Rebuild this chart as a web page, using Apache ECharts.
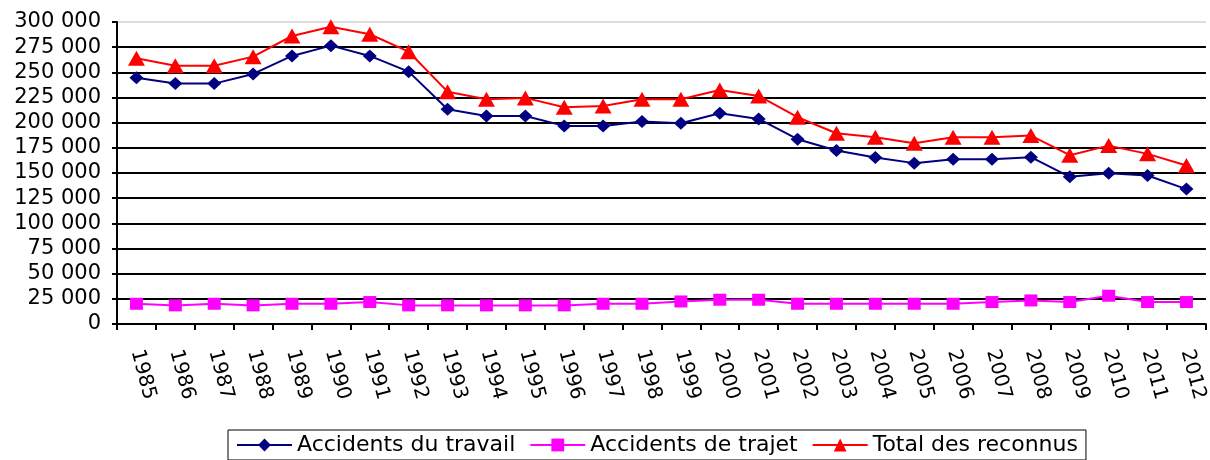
<!DOCTYPE html>
<html>
<head>
<meta charset="utf-8">
<script src="https://cdn.jsdelivr.net/npm/echarts@6/dist/echarts.min.js"></script>
<style>
html,body{margin:0;padding:0;background:#fff;}
#c{width:1210px;height:460px;}
</style>
</head>
<body>
<div id="c"></div>
<script>
const years = ['1985','1986','1987','1988','1989','1990','1991','1992','1993','1994','1995','1996','1997','1998','1999','2000','2001','2002','2003','2004','2005','2006','2007','2008','2009','2010','2011','2012'];
const accidentsTravail = [244700, 238800, 238800, 248400, 266300, 276500, 266300, 250700, 213400, 206700, 206700, 196800, 196800, 201100, 199500, 209400, 203700, 183600, 172300, 165300, 159800, 163700, 163700, 165700, 146200, 149800, 147500, 134000];
const accidentsTrajet = [20100, 18500, 20100, 18500, 20100, 20100, 21800, 18500, 18500, 18500, 18500, 18500, 20100, 20100, 22400, 24100, 24100, 20100, 20100, 20100, 20100, 20100, 21800, 23400, 21800, 28100, 21800, 21800];
const totalReconnus = [264000, 256600, 256600, 265600, 286100, 295300, 287800, 270500, 230800, 223300, 224600, 215300, 216600, 223300, 223300, 232500, 226600, 205400, 189500, 185600, 179600, 185600, 185600, 187200, 167700, 177200, 169000, 157400];
const seriesNames = ['Accidents du travail', 'Accidents de trajet', 'Total des reconnus'];

const FONT = 'DejaVu Sans';
const gridColors = [];
for (let i = 0; i < 12; i++) gridColors.push('#000');
gridColors.push('#dddddd');

const chart = echarts.init(document.getElementById('c'));
chart.setOption({
  animation: false,
  backgroundColor: '#fff',
  grid: { left: 117, right: 1, top: 22, bottom: 136, containLabel: false },
  legend: {
    data: seriesNames,
    left: 228, top: 430,
    itemWidth: 55, itemHeight: 16, itemGap: 14,
    padding: [4, 8, 4, 8],
    borderColor: '#000', borderWidth: 1,
    textStyle: { fontFamily: FONT, fontSize: 22, color: '#000' }
  },
  xAxis: {
    type: 'category',
    data: years,
    boundaryGap: true,
    axisLine: { lineStyle: { color: '#000', width: 2 } },
    axisTick: { show: true, interval: 0, length: 6, lineStyle: { color: '#000', width: 2 } },
    axisLabel: { interval: 0, rotate: -75, margin: 26, fontFamily: FONT, fontSize: 20, color: '#000' }
  },
  yAxis: {
    type: 'value',
    min: 0, max: 300000, interval: 25000,
    axisLine: { show: true, lineStyle: { color: '#000', width: 2 } },
    axisTick: { show: true, length: 5, lineStyle: { color: '#000', width: 2 } },
    axisLabel: {
      margin: 16, fontFamily: FONT, fontSize: 21, color: '#000',
      formatter: v => String(v).replace(/\B(?=(\d{3})+(?!\d))/g, ' ')
    },
    splitLine: { show: true, lineStyle: { color: gridColors, width: 2 } }
  },
  series: [
    {
      name: seriesNames[0], type: 'line', data: accidentsTravail,
      symbol: 'diamond', symbolSize: [14, 13],
      itemStyle: { color: '#000080' },
      lineStyle: { color: '#000080', width: 2 }
    },
    {
      name: seriesNames[1], type: 'line', data: accidentsTrajet,
      symbol: 'rect', symbolSize: [13, 12],
      itemStyle: { color: '#FF00FF' },
      lineStyle: { color: '#FF00FF', width: 2 }
    },
    {
      name: seriesNames[2], type: 'line', data: totalReconnus,
      symbol: 'triangle', symbolSize: [17, 15],
      itemStyle: { color: '#FF0000' },
      lineStyle: { color: '#FF0000', width: 2 }
    }
  ]
});
</script>
</body>
</html>
